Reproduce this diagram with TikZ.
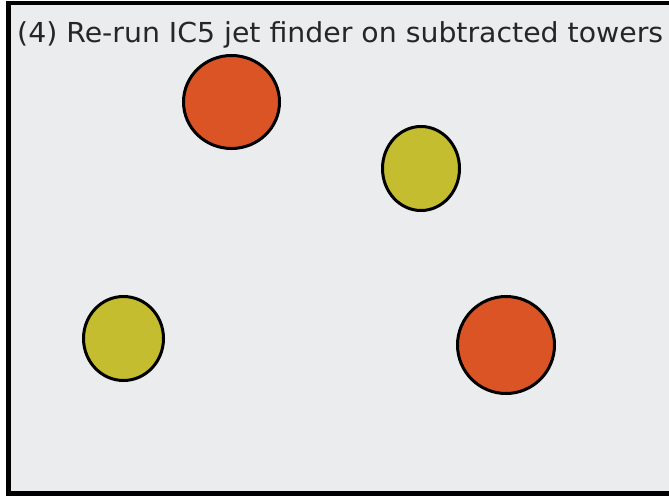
\documentclass[tikz,border=0pt]{standalone}
\usepackage{fontspec}
\usepackage{graphicx}
\setmainfont{DejaVu Sans}
\definecolor{panelbg}{HTML}{EBECEE}
\definecolor{jetorange}{HTML}{DB5425}
\definecolor{jetyellow}{HTML}{C5BD30}
\tikzset{
  jet/.style={draw=black, line width=3pt},
  hardjet/.style={jet, fill=jetorange},
  softjet/.style={jet, fill=jetyellow},
}
\begin{document}
\begin{tikzpicture}[x=1pt, y=-1pt]
  \useasboundingbox (0,0) rectangle (669,497);
  \fill[white] (0,0) rectangle (669,497);
  % panel with heavy frame, running past the right edge
  \draw[line width=4.5pt, fill=panelbg] (8.5,3) rectangle (700,493.5);
  % title
  \node[anchor=base west, inner sep=0pt, text=black!85] (title) at (17,43)
    {\resizebox{646pt}{\height}{\fontsize{27.5}{32}\selectfont (4) Re-run IC5 jet finder on subtracted towers}};
  % jets found after subtraction
  \path[hardjet] (231.5,102) ellipse [x radius=48, y radius=46.5];
  \path[softjet] (421,168.5) ellipse [x radius=38.5, y radius=42];
  \path[softjet] (123.5,338.5) ellipse [x radius=40, y radius=42];
  \path[hardjet] (506,345) ellipse [x radius=48.5, y radius=48.5];
\end{tikzpicture}
\end{document}
